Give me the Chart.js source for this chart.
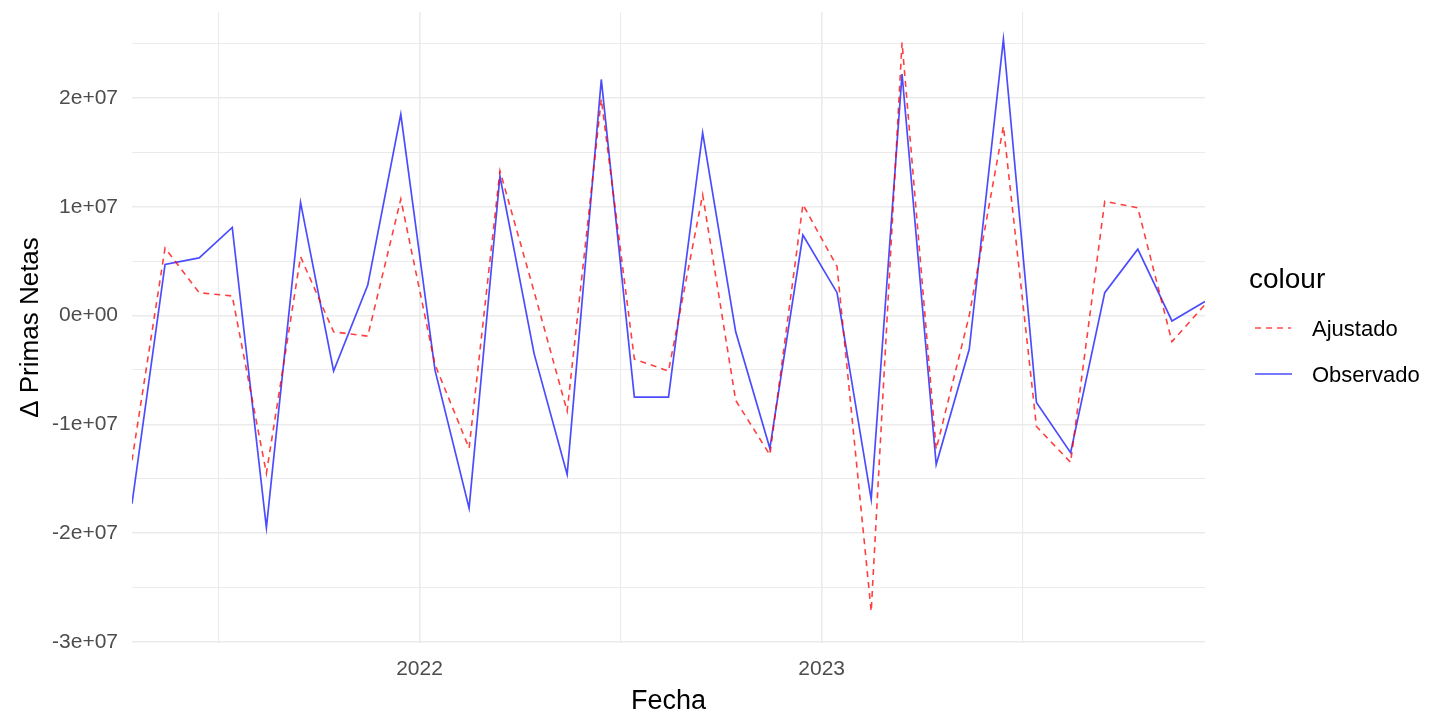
<!DOCTYPE html>
<html>
<head>
<meta charset="utf-8">
<script src="https://cdn.jsdelivr.net/npm/chart.js@4/dist/chart.umd.min.js"></script>
<style>
    body { margin: 0; background: #fff; }
    #wrap { position: relative; width: 1446px; height: 718px; }
    #legend { position: absolute; left: 1249px; top: 262px; font-family: "Liberation Sans", Arial, sans-serif; color: #000; }
    #legend .title { font-size: 28px; line-height: 34px; }
    #legend .item { position: absolute; left: 0; height: 30px; width: 190px; font-size: 22px; }
    #legend .item svg { position: absolute; left: 5px; top: 0; }
    #legend .item span { position: absolute; left: 63px; top: 2px; line-height: 26px; }
</style>
</head>
<body>
<div id="wrap">
    <canvas id="chart" width="1446" height="718"></canvas>
    <div id="legend">
        <div class="title">colour</div>
        <div class="item" style="top: 52px;">
            <svg width="40" height="30"><line x1="1" y1="14" x2="37" y2="14" stroke="rgba(255,0,0,0.7)" stroke-width="1.6" stroke-dasharray="6,5"/></svg>
            <span>Ajustado</span>
        </div>
        <div class="item" style="top: 98px;">
            <svg width="40" height="30"><line x1="1" y1="14" x2="38" y2="14" stroke="rgba(0,0,255,0.7)" stroke-width="1.6"/></svg>
            <span>Observado</span>
        </div>
    </div>
</div>
<script>
// monthly series, dated mid-month
const months = [
    "2021-04", "2021-05", "2021-06", "2021-07", "2021-08", "2021-09", "2021-10", "2021-11", "2021-12",
    "2022-01", "2022-02", "2022-03", "2022-04", "2022-05", "2022-06", "2022-07", "2022-08", "2022-09",
    "2022-10", "2022-11", "2022-12", "2023-01", "2023-02", "2023-03", "2023-04", "2023-05", "2023-06",
    "2023-07", "2023-08", "2023-09", "2023-10", "2023-11", "2023-12"
];

const observado = [
    -17300000, 4700000, 5300000, 8100000, -19500000, 10400000, -5100000, 2800000, 18500000,
    -5000000, -17700000, 12800000, -3500000, -14600000, 21700000, -7500000, -7500000, 16800000,
    -1500000, -12200000, 7400000, 2100000, -16900000, 22200000, -13700000, -3100000, 25400000,
    -8000000, -12600000, 2100000, 6100000, -500000, 1300000
];

const ajustado = [
    -13300000, 6200000, 2100000, 1800000, -14500000, 5400000, -1500000, -1900000, 10700000,
    -4500000, -12200000, 13300000, 2200000, -8800000, 19900000, -4000000, -5100000, 11100000,
    -7800000, -12800000, 10200000, 4500000, -27200000, 25100000, -12300000, 0, 17400000,
    -10200000, -13500000, 10500000, 9900000, -2400000, 1000000
];

const yTicks = [-30000000, -25000000, -20000000, -15000000, -10000000, -5000000, 0, 5000000, 10000000, 15000000, 20000000, 25000000];
const xTickYears = [2021.5, 2022, 2022.5, 2023, 2023.5];

function toTime(ym) {
    const [y, m] = ym.split("-").map(Number);
    return Date.UTC(y, m - 1, 15);
}

function yearTime(y) {
    // fractional years -> point between Jan 1 of neighbouring years
    const whole = Math.floor(y);
    const a = Date.UTC(whole, 0, 1);
    const b = Date.UTC(whole + 1, 0, 1);
    return a + (b - a) * (y - whole);
}

function sciLabel(v) {
    if (v === 0) return "0e+00";
    return (v / 1e7) + "e+07";
}

const times = months.map(toTime);
const xTicks = xTickYears.map(yearTime);

const FONT = "'Liberation Sans', Arial, sans-serif";
const GRID = "#ebebeb";

const ctx = document.getElementById("chart").getContext("2d");
new Chart(ctx, {
    type: "line",
    data: {
        datasets: [
            {
                label: "Observado",
                data: times.map((t, i) => ({ x: t, y: observado[i] })),
                borderColor: "rgba(0,0,255,0.7)",
                borderWidth: 1.7,
                pointRadius: 0,
                tension: 0,
                order: 2,
            },
            {
                label: "Ajustado",
                data: times.map((t, i) => ({ x: t, y: ajustado[i] })),
                borderColor: "rgba(255,0,0,0.75)",
                borderWidth: 1.6,
                borderDash: [6, 5],
                pointRadius: 0,
                tension: 0,
                order: 1,
            },
        ],
    },
    options: {
        responsive: false,
        animation: false,
        layout: { padding: { left: 0, right: 241, top: 12, bottom: 0 } },
        plugins: {
            legend: { display: false },
            tooltip: { enabled: false },
        },
        scales: {
            x: {
                type: "linear",
                min: times[0],
                max: times[times.length - 1],
                afterBuildTicks: (scale) => {
                    scale.ticks = xTicks.map((v) => ({ value: v }));
                },
                afterFit: (scale) => {
                    scale.height = 75;
                    scale.paddingLeft = 0;
                    scale.paddingRight = 0;
                },
                border: { display: false },
                grid: {
                    drawTicks: false,
                    color: GRID,
                    lineWidth: (c) => (c.tick && Number.isInteger(xTickYears[c.index]) ? 1.6 : 1.1),
                },
                ticks: {
                    autoSkip: false,
                    maxRotation: 0,
                    padding: 14,
                    color: "#4d4d4d",
                    font: { family: FONT, size: 21 },
                    callback: (v, i) => (Number.isInteger(xTickYears[i]) ? String(xTickYears[i]) : ""),
                },
                title: {
                    display: true,
                    text: "Fecha",
                    color: "#000",
                    font: { family: FONT, size: 27 },
                    padding: { top: 0, bottom: 0 },
                },
            },
            y: {
                min: -30100000,
                max: 27900000,
                afterBuildTicks: (scale) => {
                    scale.ticks = yTicks.map((v) => ({ value: v }));
                },
                afterFit: (scale) => {
                    scale.width = 132;
                    scale.paddingTop = 0;
                    scale.paddingBottom = 0;
                },
                border: { display: false },
                grid: {
                    drawTicks: false,
                    color: GRID,
                    lineWidth: (c) => (c.tick && c.tick.value % 10000000 === 0 ? 1.6 : 1.1),
                },
                ticks: {
                    autoSkip: false,
                    padding: 14,
                    color: "#4d4d4d",
                    font: { family: FONT, size: 21 },
                    callback: (v) => (v % 10000000 === 0 ? sciLabel(v) : ""),
                },
                title: {
                    display: true,
                    text: "Δ Primas Netas",
                    color: "#000",
                    font: { family: FONT, size: 26 },
                    padding: { top: 15, bottom: 0 },
                },
            },
        },
    },
});
</script>
</body>
</html>
